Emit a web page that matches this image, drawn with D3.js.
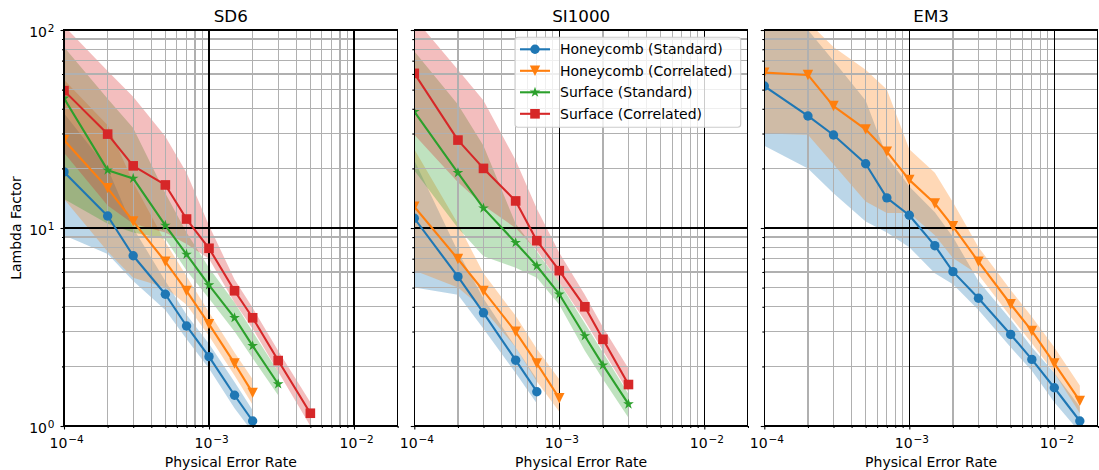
<!DOCTYPE html>
<html>
<head>
<meta charset="utf-8">
<script src="https://cdn.jsdelivr.net/npm/d3@7"></script>
<style>
  body { margin: 0; background: #fff; }
  svg { display: block; }
  text { font-family: "DejaVu Sans", sans-serif; fill: #000; }
</style>
</head>
<body>
<svg id="chart" width="1099" height="470"></svg>
<script>
// ---- Data -----------------------------------------------------------------
const panelTitles = ["SD6", "SI1000", "EM3"];
const seriesNames = ["Honeycomb (Standard)", "Honeycomb (Correlated)", "Surface (Standard)", "Surface (Correlated)"];
const xTickValues = [1e-4, 1e-3, 1e-2];
const yTickValues = [1, 10, 100];
const xTickExponents = ["−4", "−3", "−2"];
const yTickExponents = ["0", "1", "2"];

// SD6
const sd6HcStdRate   = [1e-4, 2e-4, 3e-4, 5e-4, 7e-4, 1e-3, 1.5e-3, 2e-3];
const sd6HcStdLambda = [19.2, 11.5, 7.24, 4.63, 3.2, 2.24, 1.43, 1.06];
const sd6HcStdLow    = [9.2, 7.4, 5.4, 3.85, 2.75, 1.95, 1.23, 0.93];
const sd6HcStdHigh   = [38, 20, 10, 5.4, 3.65, 2.6, 1.67, 1.2];

const sd6HcCorRate   = [1e-4, 2e-4, 3e-4, 5e-4, 7e-4, 1e-3, 1.5e-3, 2e-3];
const sd6HcCorLambda = [27.8, 15.9, 10.8, 6.76, 4.81, 3.27, 2.07, 1.47];
const sd6HcCorLow    = [14, 7.6, 5.6, 5.0, 4.1, 2.85, 1.8, 1.28];
const sd6HcCorHigh   = [56, 33, 17, 8.5, 5.7, 3.75, 2.35, 1.72];

const sd6SfStdRate   = [1e-4, 2e-4, 3e-4, 5e-4, 7e-4, 1e-3, 1.5e-3, 2e-3, 3e-3];
const sd6SfStdLambda = [45.2, 19.6, 17.8, 10.3, 7.36, 5.15, 3.52, 2.54, 1.63];
const sd6SfStdLow    = [14, 10.5, 9.5, 8.8, 6.1, 4.4, 3.0, 2.2, 1.43];
const sd6SfStdHigh   = [82, 45, 32, 15, 9.5, 6.3, 4.2, 3.0, 1.88];

const sd6SfCorRate   = [1e-4, 2e-4, 3e-4, 5e-4, 7e-4, 1e-3, 1.5e-3, 2e-3, 3e-3, 5e-3];
const sd6SfCorLambda = [49.4, 29.8, 20.6, 16.5, 11.1, 7.9, 4.82, 3.52, 2.14, 1.16];
const sd6SfCorLow    = [24, 13, 10.5, 9.5, 8.3, 7.0, 4.2, 3.1, 1.88, 1.0];
const sd6SfCorHigh   = [105, 62, 46, 29, 19, 10.3, 5.5, 3.95, 2.4, 1.32];

// SI1000
const si1000HcStdRate   = [1e-4, 2e-4, 3e-4, 5e-4, 7e-4];
const si1000HcStdLambda = [11.2, 5.68, 3.73, 2.15, 1.49];
const si1000HcStdLow    = [5.0, 4.6, 3.1, 1.85, 1.3];
const si1000HcStdHigh   = [22, 7.6, 4.4, 2.5, 1.72];

const si1000HcCorRate   = [1e-4, 2e-4, 3e-4, 5e-4, 7e-4, 1e-3];
const si1000HcCorLambda = [12.8, 6.97, 4.81, 2.99, 2.07, 1.38];
const si1000HcCorLow    = [6.1, 5.0, 3.9, 2.5, 1.68, 1.18];
const si1000HcCorHigh   = [25, 10.5, 5.9, 3.6, 2.45, 1.72];

const si1000SfStdRate   = [1e-4, 2e-4, 3e-4, 5e-4, 7e-4, 1e-3, 1.5e-3, 2e-3, 3e-3];
const si1000SfStdLambda = [38.7, 19.0, 12.6, 8.43, 6.43, 4.63, 2.85, 2.03, 1.29];
const si1000SfStdLow    = [19.5, 10, 7.2, 6.3, 5.6, 4.1, 2.4, 1.72, 1.1];
const si1000SfStdHigh   = [78, 42, 26, 10.5, 7.6, 5.3, 3.3, 2.35, 1.45];

const si1000SfCorRate   = [1e-4, 2e-4, 3e-4, 5e-4, 7e-4, 1e-3, 1.5e-3, 2e-3, 3e-3];
const si1000SfCorLambda = [60.4, 27.8, 20.0, 13.7, 8.63, 6.09, 4.0, 2.74, 1.62];
const si1000SfCorLow    = [29.6, 17, 13, 10, 7.7, 5.3, 3.4, 2.4, 1.48];
const si1000SfCorHigh   = [115, 63, 44, 22, 12.5, 7.5, 4.6, 3.15, 1.95];

// EM3
const em3HcStdRate   = [1e-4, 2e-4, 3e-4, 5e-4, 7e-4, 1e-3, 1.5e-3, 2e-3, 3e-3, 5e-3, 7e-3, 1e-2, 1.5e-2];
const em3HcStdLambda = [52.1, 36.8, 29.5, 21.1, 14.2, 11.6, 8.14, 6.02, 4.42, 2.90, 2.17, 1.56, 1.06];
const em3HcStdLow    = [26, 20, 15, 10.8, 9.5, 8.0, 5.9, 5.2, 3.85, 2.5, 1.9, 1.32, 0.93];
const em3HcStdHigh   = [110, 100, 70, 44, 23, 16.2, 12, 9, 5.4, 3.45, 2.5, 1.85, 1.25];

const em3HcCorRate   = [1e-4, 2e-4, 3e-4, 5e-4, 7e-4, 1e-3, 1.5e-3, 2e-3, 3e-3, 5e-3, 7e-3, 1e-2, 1.5e-2];
const em3HcCorLambda = [60.9, 59.3, 41.3, 31.5, 24.3, 17.5, 13.3, 10.2, 6.76, 4.12, 3.02, 2.07, 1.34];
const em3HcCorLow    = [30, 29.6, 21, 13.6, 11.9, 11.9, 9.2, 7.05, 5.8, 3.56, 2.62, 1.85, 1.16];
const em3HcCorHigh   = [130, 110, 82, 63, 50, 25, 19, 13.5, 8.0, 4.86, 3.56, 2.5, 1.6];

// ---- Styles -----------------------------------------------------------------
const seriesColors = ["#1f77b4", "#ff7f0e", "#2ca02c", "#d62728"];
const seriesMarkers = ["circle", "triangleDown", "star", "square"];

function makeSeries(idx, rate, lambda, low, high) {
  return {
    idx,
    points: rate.map((r, i) => ({ r, v: lambda[i], lo: low[i], hi: high[i] }))
  };
}

const panels = [
  [
    makeSeries(0, sd6HcStdRate, sd6HcStdLambda, sd6HcStdLow, sd6HcStdHigh),
    makeSeries(1, sd6HcCorRate, sd6HcCorLambda, sd6HcCorLow, sd6HcCorHigh),
    makeSeries(2, sd6SfStdRate, sd6SfStdLambda, sd6SfStdLow, sd6SfStdHigh),
    makeSeries(3, sd6SfCorRate, sd6SfCorLambda, sd6SfCorLow, sd6SfCorHigh)
  ],
  [
    makeSeries(0, si1000HcStdRate, si1000HcStdLambda, si1000HcStdLow, si1000HcStdHigh),
    makeSeries(1, si1000HcCorRate, si1000HcCorLambda, si1000HcCorLow, si1000HcCorHigh),
    makeSeries(2, si1000SfStdRate, si1000SfStdLambda, si1000SfStdLow, si1000SfStdHigh),
    makeSeries(3, si1000SfCorRate, si1000SfCorLambda, si1000SfCorLow, si1000SfCorHigh)
  ],
  [
    makeSeries(0, em3HcStdRate, em3HcStdLambda, em3HcStdLow, em3HcStdHigh),
    makeSeries(1, em3HcCorRate, em3HcCorLambda, em3HcCorLow, em3HcCorHigh)
  ]
];

// ---- Layout -----------------------------------------------------------------
const xMin = 1e-4, xMax = 2e-2, yMin = 1, yMax = 100;
const plotTop = 30, plotBottom = 426;
const decadePx = 145;
const plotWidth = decadePx * Math.log10(xMax / xMin);
const plotHeight = plotBottom - plotTop;
const panelLefts = [64, 414.3, 764.3];

const x = d3.scaleLog().domain([xMin, xMax]).range([0, plotWidth]);
const y = d3.scaleLog().domain([yMin, yMax]).range([plotHeight, 0]);

// minor tick positions for each decade
const minorX = [];
[-4, -3, -2].forEach(e => { for (let k = 2; k <= 9; k++) { const v = k * Math.pow(10, e); if (v <= xMax * 1.0001) minorX.push(v); } });
const minorY = [];
[0, 1].forEach(e => { for (let k = 2; k <= 9; k++) minorY.push(k * Math.pow(10, e)); });

// ---- Marker shapes ------------------------------------------------------------
function drawMarker(sel, kind, color) {
  if (kind === "circle") {
    sel.append("circle").attr("r", 4.7).attr("fill", color);
  } else if (kind === "square") {
    sel.append("rect").attr("x", -4.8).attr("y", -4.8).attr("width", 9.6).attr("height", 9.6).attr("fill", color);
  } else if (kind === "triangleDown") {
    const s = 5.2;
    sel.append("path").attr("d", `M${-s},${-s}L${s},${-s}L0,${s}Z`).attr("fill", color);
  } else if (kind === "star") {
    const R = 5.6, r = R * 0.381966;
    let d = "";
    for (let i = 0; i < 10; i++) {
      const rad = i % 2 === 0 ? R : r;
      const a = -Math.PI / 2 + i * Math.PI / 5;
      d += (i === 0 ? "M" : "L") + (rad * Math.cos(a)).toFixed(3) + "," + (rad * Math.sin(a)).toFixed(3);
    }
    sel.append("path").attr("d", d + "Z").attr("fill", color);
  }
}

// ---- Drawing -------------------------------------------------------------------
const svg = d3.select("#chart");
const defs = svg.append("defs");
defs.append("clipPath").attr("id", "plotClip")
  .append("rect").attr("x", 0).attr("y", 0).attr("width", plotWidth).attr("height", plotHeight);

const area = d3.area().x(d => x(d.r)).y0(d => y(d.lo)).y1(d => y(d.hi));
const line = d3.line().x(d => x(d.r)).y(d => y(d.v));

// "10" with a raised exponent, as in log-axis tick labels
function powLabel(textSel, exponents, values) {
  textSel.each(function (d) {
    const t = d3.select(this);
    const i = values.indexOf(d);
    t.text(null);
    t.append("tspan").text("10");
    t.append("tspan").attr("font-size", "10.5px").attr("dx", 0.8).attr("dy", -5.5).text(exponents[i]);
  });
}

panels.forEach((seriesList, p) => {
  const g = svg.append("g").attr("transform", `translate(${panelLefts[p]},${plotTop})`);
  const inner = g.append("g").attr("clip-path", "url(#plotClip)");

  // confidence bands
  seriesList.forEach(s => {
    inner.append("path").datum(s.points).attr("d", area)
      .attr("fill", seriesColors[s.idx]).attr("fill-opacity", 0.3).attr("stroke", "none");
  });

  // grid: minor in gray, decades in black
  const grid = inner.append("g").attr("shape-rendering", "crispEdges");
  grid.selectAll(".gxm").data(minorX).join("line")
    .attr("x1", d => x(d)).attr("x2", d => x(d)).attr("y1", 0).attr("y2", plotHeight)
    .attr("stroke", "#b0b0b0").attr("stroke-width", 1.2);
  grid.selectAll(".gym").data(minorY).join("line")
    .attr("y1", d => y(d)).attr("y2", d => y(d)).attr("x1", 0).attr("x2", plotWidth)
    .attr("stroke", "#b0b0b0").attr("stroke-width", 1.2);
  grid.selectAll(".gxM").data(xTickValues).join("line")
    .attr("x1", d => x(d)).attr("x2", d => x(d)).attr("y1", 0).attr("y2", plotHeight)
    .attr("stroke", "#000").attr("stroke-width", 1.1);
  grid.selectAll(".gyM").data(yTickValues).join("line")
    .attr("y1", d => y(d)).attr("y2", d => y(d)).attr("x1", 0).attr("x2", plotWidth)
    .attr("stroke", "#000").attr("stroke-width", 1.1);

  // lines and markers
  seriesList.forEach(s => {
    const c = seriesColors[s.idx];
    inner.append("path").datum(s.points).attr("d", line)
      .attr("fill", "none").attr("stroke", c).attr("stroke-width", 2.1).attr("stroke-linejoin", "round");
    inner.append("g").selectAll("g").data(s.points).join("g")
      .attr("transform", d => `translate(${x(d.r)},${y(d.v)})`)
      .each(function () { drawMarker(d3.select(this), seriesMarkers[s.idx], c); });
  });

  // frame
  g.append("rect").attr("x", 0).attr("y", 0).attr("width", plotWidth).attr("height", plotHeight)
    .attr("fill", "none").attr("stroke", "#000").attr("stroke-width", 1.1).attr("shape-rendering", "crispEdges");

  // x axis
  const xMajor = g.append("g").attr("transform", `translate(0,${plotHeight})`)
    .call(d3.axisBottom(x).tickValues(xTickValues).tickSize(3.5).tickFormat(d => d));
  const xMinor = g.append("g").attr("transform", `translate(0,${plotHeight})`)
    .call(d3.axisBottom(x).tickValues(minorX).tickSize(2).tickFormat(""));
  [xMajor, xMinor].forEach(a => { a.select(".domain").remove(); a.selectAll("line").attr("stroke-width", 1.1); });
  xMajor.selectAll(".tick text")
    .attr("y", 22).attr("dy", null).attr("x", -15).attr("text-anchor", "start")
    .attr("font-size", "14px").attr("font-family", "DejaVu Sans, sans-serif")
    .call(powLabel, xTickExponents, xTickValues);

  // y axis (labels only on the first panel)
  const yMajor = g.append("g")
    .call(d3.axisLeft(y).tickValues(yTickValues).tickSize(3.5).tickFormat(d => d));
  const yMinor = g.append("g")
    .call(d3.axisLeft(y).tickValues(minorY).tickSize(2).tickFormat(""));
  [yMajor, yMinor].forEach(a => { a.select(".domain").remove(); a.selectAll("line").attr("stroke-width", 1.1); });
  if (p === 0) {
    yMajor.selectAll(".tick text")
      .attr("x", -9.5).attr("dy", null).attr("y", 6.7).attr("text-anchor", "end")
      .attr("font-size", "14px").attr("font-family", "DejaVu Sans, sans-serif")
      .call(powLabel, yTickExponents, yTickValues);
  } else {
    yMajor.selectAll(".tick text").remove();
  }

  // titles and axis labels
  g.append("text").attr("x", plotWidth / 2).attr("y", -8).attr("text-anchor", "middle")
    .attr("font-size", "16.7px").text(panelTitles[p]);
  g.append("text").attr("x", plotWidth / 2).attr("y", plotHeight + 40.5).attr("text-anchor", "middle")
    .attr("font-size", "14px").text("Physical Error Rate");
  if (p === 0) {
    g.append("text").attr("transform", `translate(${20.5 - panelLefts[0]},${plotHeight / 2}) rotate(-90)`)
      .attr("text-anchor", "middle").attr("font-size", "14px").text("Lambda Factor");
  }

  // legend inside the middle panel
  if (p === 1) {
    const lg = g.append("g").attr("transform", `translate(${515 - panelLefts[1]},${37.3 - plotTop})`);
    lg.append("rect").attr("x", 0).attr("y", 0).attr("width", 225.7).attr("height", 90).attr("rx", 3)
      .attr("fill", "#fff").attr("fill-opacity", 0.8).attr("stroke", "#cccccc").attr("stroke-width", 1.1);
    seriesNames.forEach((name, i) => {
      const row = lg.append("g").attr("transform", `translate(0,${12 + i * 21.5})`);
      row.append("line").attr("x1", 5).attr("x2", 35).attr("y1", 0).attr("y2", 0)
        .attr("stroke", seriesColors[i]).attr("stroke-width", 2.1);
      const m = row.append("g").attr("transform", "translate(20,0)");
      drawMarker(m, seriesMarkers[i], seriesColors[i]);
      row.append("text").attr("x", 45).attr("y", 5).attr("font-size", "14px").text(name);
    });
  }
});
</script>
</body>
</html>
